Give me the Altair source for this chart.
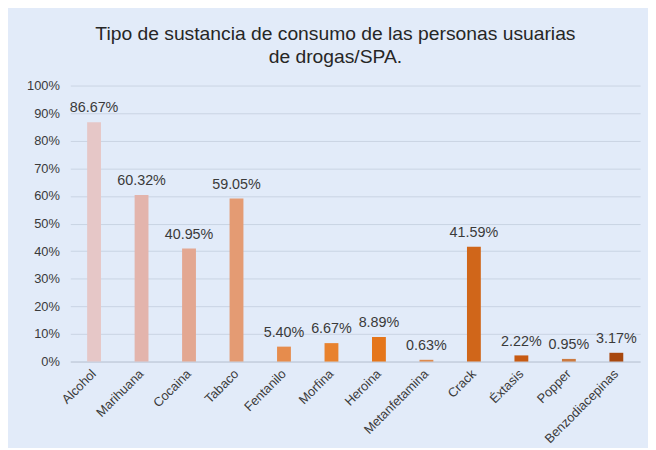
import altair as alt
import pandas as pd

categories = ["Alcohol", "Marihuana", "Cocaina", "Tabaco", "Fentanilo", "Morfina",
              "Heroina", "Metanfetamina", "Crack", "Éxtasis", "Popper", "Benzodiacepinas"]
values = [86.67, 60.32, 40.95, 59.05, 5.40, 6.67, 8.89, 0.63, 41.59, 2.22, 0.95, 3.17]
colors = ["#E6C7C7", "#E3B4AC", "#E3A791", "#E49B73", "#E68C4D", "#E8822E",
          "#E5761B", "#DE8A4E", "#D0661A", "#C75A12", "#CC7A40", "#A8480F"]
y_ticks = [0, 10, 20, 30, 40, 50, 60, 70, 80, 90, 100]

df = pd.DataFrame({
    "cat": categories,
    "val": values,
    "label": [f"{v:.2f}%" for v in values],
})

FONT = "Liberation Sans"

base = alt.Chart(df).encode(
    x=alt.X("cat:N", sort=categories, title=None,
            scale=alt.Scale(paddingInner=0.0, paddingOuter=0.0),
            axis=alt.Axis(labelAngle=-45, labelAlign="right", labelBaseline="middle",
                          labelFontSize=13, labelColor="#3A3A3A", labelFont=FONT,
                          labelPadding=10, ticks=False, domain=True, labelOverlap=False,
                          domainColor="#BFC9D9", grid=False)),
    y=alt.Y("val:Q", title=None,
            scale=alt.Scale(domain=[0, 100], nice=False),
            axis=alt.Axis(values=y_ticks, labelExpr="datum.value + '%'",
                          labelFontSize=13, labelColor="#3A3A3A", labelFont=FONT,
                          ticks=False, domain=False, grid=True, labelOverlap=False,
                          gridColor="#C9D3E3", labelPadding=11,
                          minExtent=55, maxExtent=55)),
)

bars = base.mark_bar(size=14).encode(
    color=alt.Color("cat:N", scale=alt.Scale(domain=categories, range=colors), legend=None),
)

text = base.mark_text(baseline="bottom", dy=-7, fontSize=14.5, font=FONT, color="#3A3A3A").encode(
    text=alt.Text("label:N"),
)

chart = alt.layer(bars, text).properties(
    width=576,
    height=279,
    background="#E2EBF9",
    padding={"left": 8, "top": 13, "right": 8, "bottom": 0},
    title=alt.TitleParams(
        text=["Tipo de sustancia de consumo de las personas usuarias", "de drogas/SPA."],
        fontSize=19.5, font=FONT, fontWeight="normal", color="#262626",
        anchor="middle", frame="group", lineHeight=24, offset=12, dx=-20,
    ),
).configure_view(stroke=None)

chart.save("out.html", embed_options={"renderer": "svg", "actions": False})
